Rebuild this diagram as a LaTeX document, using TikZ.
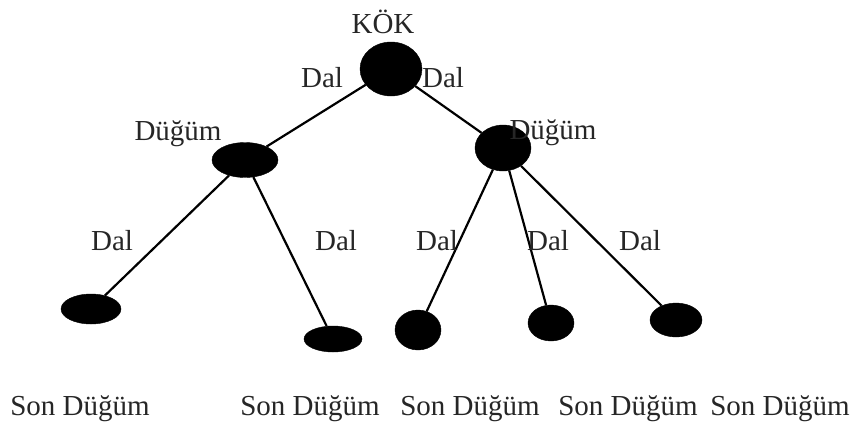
\documentclass[tikz,border=0pt]{standalone}
\usepackage{fontspec}
\setmainfont{Liberation Serif}
\usetikzlibrary{shapes.geometric}
\begin{document}
\begin{tikzpicture}[x=1pt,y=-1pt,
  dot/.style={ellipse,fill=black,draw=black,inner sep=0pt},
  lbl/.style={font=\fontsize{29}{32}\selectfont,text=black!85,inner sep=0pt},
  edge/.style={line width=2.2pt,black}]
\useasboundingbox (0,0) rectangle (855,424);
% nodes
\node[dot,minimum width=62pt,minimum height=54pt] (root) at (391,69) {};
\node[dot,minimum width=66pt,minimum height=35pt] (n1) at (245,160) {};
\node[dot,minimum width=56pt,minimum height=46pt] (n2) at (503,148) {};
\node[dot,minimum width=60pt,minimum height=30pt] (l1) at (91,309) {};
\node[dot,minimum width=58pt,minimum height=26pt] (l2) at (333,339) {};
\node[dot,minimum width=46pt,minimum height=40pt] (l3) at (418,330) {};
\node[dot,minimum width=46pt,minimum height=36pt] (l4) at (551,323) {};
\node[dot,minimum width=52pt,minimum height=34pt] (l5) at (676,320) {};
% edges
\draw[edge] (root) -- (n1);
\draw[edge] (root) -- (n2);
\draw[edge] (n1) -- (l1);
\draw[edge] (n1) -- (l2);
\draw[edge] (n2) -- (l3);
\draw[edge] (n2) -- (l4);
\draw[edge] (n2) -- (l5);
% labels
\node[lbl] (tkok) at (383,22) {KÖK};
\node[lbl] (d1) at (322,78) {Dal};
\node[lbl] (d2) at (443,78) {Dal};
\node[lbl] (t1) at (178,134) {Düğüm};
\node[lbl] (t2) at (553,133) {Düğüm};
\node[lbl] (d3) at (112,241) {Dal};
\node[lbl] (d4) at (336,241) {Dal};
\node[lbl] (d5) at (437,241) {Dal};
\node[lbl] (d6) at (548,241) {Dal};
\node[lbl] (d7) at (640,241) {Dal};
\node[lbl] (s1) at (80,409) {Son Düğüm};
\node[lbl] (s2) at (310,409) {Son Düğüm};
\node[lbl] (s3) at (470,409) {Son Düğüm};
\node[lbl] (s4) at (628,409) {Son Düğüm};
\node[lbl] (s5) at (780,409) {Son Düğüm};
\end{tikzpicture}
\end{document}
